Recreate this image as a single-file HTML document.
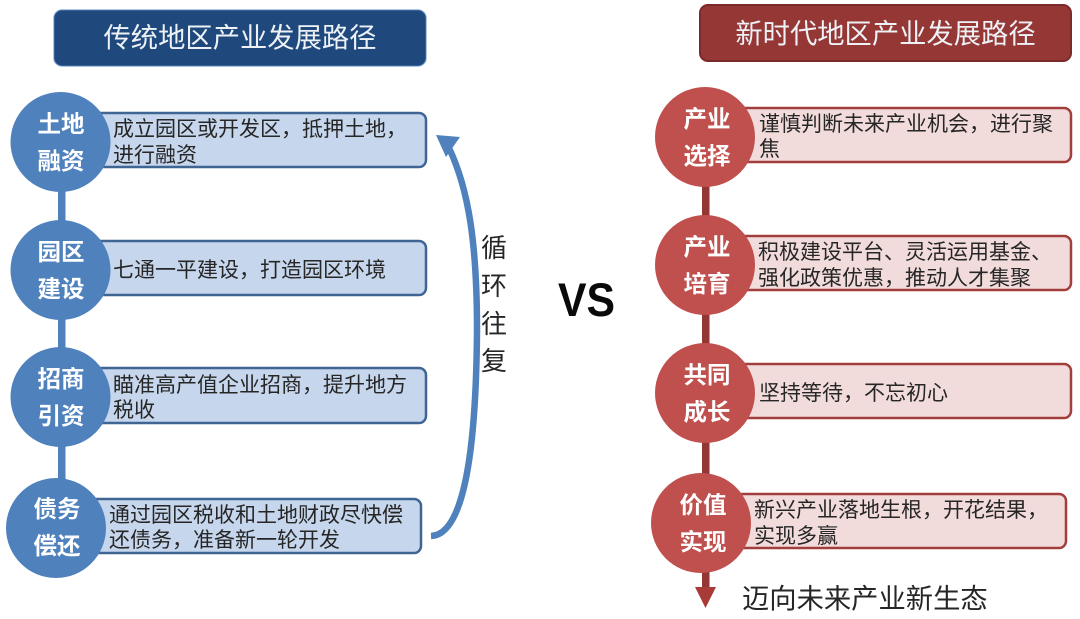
<!DOCTYPE html>
<html><head><meta charset="utf-8"><style>
html,body{margin:0;padding:0;background:#fff;width:1080px;height:619px;overflow:hidden}
svg{display:block;filter:blur(.35px)}
text{font-family:"Liberation Sans","Noto Sans CJK SC",sans-serif}
.t{font-size:27.3px;fill:#eef2f7;text-anchor:middle}
.d{font-size:21px;fill:#262626}
.c{font-size:23.5px;font-weight:700;fill:#fff;text-anchor:middle}
.v{font-size:26px;fill:#262626;text-anchor:middle}
</style></head><body>
<svg width="1080" height="619" viewBox="0 0 1080 619" xmlns="http://www.w3.org/2000/svg">
<rect x="54" y="10" width="372" height="56" rx="8" fill="#1f497d" stroke="#4f81bd" stroke-opacity=".6" stroke-width="1.5"/>
<text class="t" x="240" y="47">传统地区产业发展路径</text>
<rect x="700" y="5" width="371" height="56" rx="8" fill="#953735" stroke="#7a2a28" stroke-width="2"/>
<text class="t" x="885.500" y="43">新时代地区产业发展路径</text>

<g fill="#4f81bd"><rect x="58" y="190" width="7.500" height="300"/></g>
<g fill="#c6d6ec" stroke="#3f6592" stroke-width="2.500">
<rect x="80" y="113" width="346" height="54" rx="7"/>
<rect x="80" y="241" width="346" height="54" rx="7"/>
<rect x="80" y="368" width="346" height="55" rx="7"/>
<rect x="76" y="499" width="345" height="54" rx="7"/>
</g>
<g fill="#4f81bd">
<circle cx="60.500" cy="142" r="50"/><circle cx="60.500" cy="270" r="50"/><circle cx="60.500" cy="397" r="50"/><circle cx="56" cy="528" r="50"/>
</g>
<text class="c"><tspan x="61" y="132">土地</tspan><tspan x="61" y="169">融资</tspan></text>
<text class="c"><tspan x="61" y="260">园区</tspan><tspan x="61" y="297">建设</tspan></text>
<text class="c"><tspan x="61" y="387">招商</tspan><tspan x="61" y="424">引资</tspan></text>
<text class="c"><tspan x="57" y="517">债务</tspan><tspan x="57" y="554">偿还</tspan></text>
<text class="d"><tspan x="113" y="136">成立园区或开发区，抵押土地，</tspan><tspan x="113" y="162">进行融资</tspan></text>
<text class="d" x="113" y="277">七通一平建设，打造园区环境</text>
<text class="d"><tspan x="113" y="392">瞄准高产值企业招商，提升地方</tspan><tspan x="113" y="417">税收</tspan></text>
<text class="d"><tspan x="109" y="522">通过园区税收和土地财政尽快偿</tspan><tspan x="109" y="547">还债务，准备新一轮开发</tspan></text>

<path d="M431 536 C460 535 476 470 477 330 C477 245 469 190 449 148" fill="none" stroke="#4f81bd" stroke-width="6.500"/>
<path d="M436 135 L460 137 L446 157 Z" fill="#4f81bd"/>
<text class="v"><tspan x="494" y="257">循</tspan><tspan x="494" y="295">环</tspan><tspan x="494" y="333">往</tspan><tspan x="494" y="370">复</tspan></text>
<text x="586.500" y="316" font-size="47" font-weight="700" fill="#0a0a0a" text-anchor="middle" style="font-family:'Liberation Sans',sans-serif" textLength="57" lengthAdjust="spacingAndGlyphs">VS</text>

<rect x="702" y="185" width="7.500" height="405" fill="#943634"/>
<path d="M695 587 H716 L705.500 608 Z" fill="#a83a38"/>
<g fill="#f2dcdb" stroke="#a23f3d" stroke-width="2.500">
<rect x="725" y="108" width="346" height="54" rx="7"/>
<rect x="725" y="236" width="346" height="54" rx="7"/>
<rect x="725" y="364" width="346" height="54" rx="7"/>
<rect x="720" y="494" width="346" height="54" rx="7"/>
</g>
<g fill="#c0504d">
<circle cx="705" cy="137" r="50"/><circle cx="705" cy="265" r="50"/><circle cx="705" cy="393" r="50"/><circle cx="701" cy="523" r="50"/>
</g>
<text class="c"><tspan x="707" y="127">产业</tspan><tspan x="707" y="164">选择</tspan></text>
<text class="c"><tspan x="707" y="255">产业</tspan><tspan x="707" y="292">培育</tspan></text>
<text class="c"><tspan x="707" y="383">共同</tspan><tspan x="707" y="420">成长</tspan></text>
<text class="c"><tspan x="703" y="513">价值</tspan><tspan x="703" y="550">实现</tspan></text>
<text class="d"><tspan x="759" y="131">谨慎判断未来产业机会，进行聚</tspan><tspan x="759" y="156">焦</tspan></text>
<text class="d"><tspan x="758" y="259">积极建设平台、灵活运用基金、</tspan><tspan x="758" y="285">强化政策优惠，推动人才集聚</tspan></text>
<text class="d" x="759" y="400">坚持等待，不忘初心</text>
<text class="d"><tspan x="754" y="517">新兴产业落地生根，开花结果，</tspan><tspan x="754" y="543">实现多赢</tspan></text>
<text x="742" y="608" font-size="27.300" fill="#262626">迈向未来产业新生态</text>
</svg>
</body></html>
